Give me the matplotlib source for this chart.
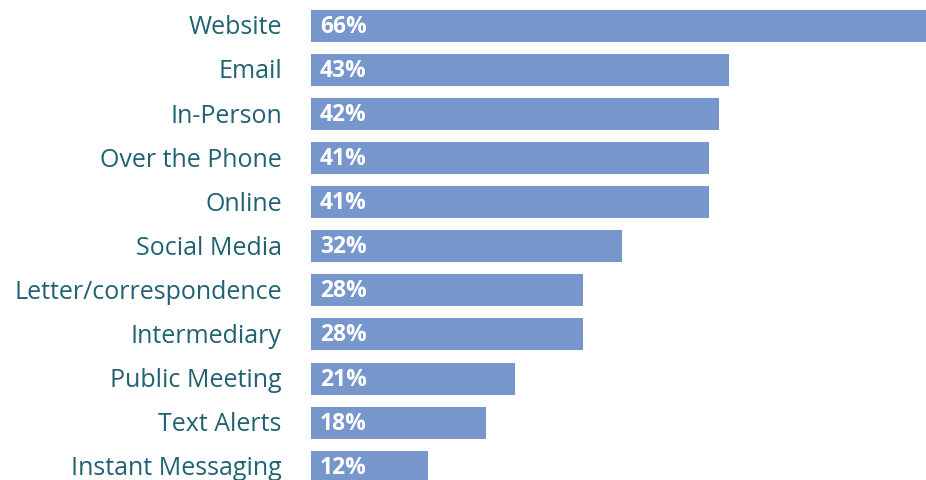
import matplotlib
matplotlib.use("Agg")
import matplotlib.pyplot as plt
import matplotlib.transforms as mtransforms

categories = ["Website", "Email", "In-Person", "Over the Phone", "Online",
              "Social Media", "Letter/correspondence", "Intermediary",
              "Public Meeting", "Text Alerts", "Instant Messaging"]
values = [66, 43, 42, 41, 41, 32, 28, 28, 21, 18, 12]

bar_color = "#7796cc"
text_color = "#216272"

plt.rcParams["font.family"] = ["Open Sans", "DejaVu Sans"]

fig = plt.figure(figsize=(9.26, 4.81), dpi=100)
ax = fig.add_axes([311 / 926, 0, 1 - 311 / 926, 1])

y = list(range(len(categories)))
ax.barh(y, values, height=0.726, color=bar_color, zorder=2)

for yi, v in zip(y, values):
    ax.annotate(f"{v}%", xy=(0, yi), xytext=(6.5, 0), textcoords="offset points",
                ha="left", va="center", color="white", fontsize=16.5,
                fontweight="bold")

ax.set_yticks(y)
ax.set_yticklabels(categories, fontsize=18, color=text_color)
ax.tick_params(axis="y", length=0, pad=21)
# nudge category labels slightly upward
nudge = mtransforms.ScaledTranslation(0, 1.5 / 72, fig.dpi_scale_trans)
for lbl in ax.get_yticklabels():
    lbl.set_transform(lbl.get_transform() + nudge)
ax.set_xticks([])
ax.set_xlim(0, 63.34)
ax.set_ylim(10.302, -0.613)
for s in ax.spines.values():
    s.set_visible(False)

fig.savefig("out.png", dpi=100)
